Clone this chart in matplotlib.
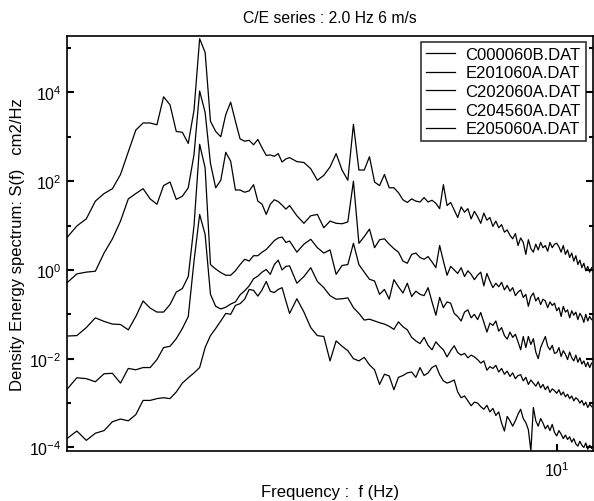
import numpy as np
import matplotlib
matplotlib.use("Agg")
import matplotlib.pyplot as plt
from matplotlib.ticker import FixedLocator, NullFormatter, NullLocator

plt.rcParams['font.family'] = ['Liberation Sans', 'DejaVu Sans']
plt.rcParams['mathtext.fontset'] = 'custom'
plt.rcParams['mathtext.rm'] = 'Liberation Sans'
plt.rcParams['mathtext.it'] = 'Liberation Sans:italic'

# frequency grid (Hz): fine below 3 Hz, coarser above
freq = np.concatenate([np.round(np.arange(1.10, 3.001, 0.05), 2),
                       np.round(np.arange(3.1, 11.701, 0.1), 2)])

labels = ["C000060B.DAT", "E201060A.DAT", "C202060A.DAT", "C204560A.DAT", "E205060A.DAT"]

# spectra, stored as log10 S(f)  [cm2/Hz]
log_c000060b = [
    0.73, 0.99, 1.15, 1.55, 1.72, 1.83, 2.15, 2.66, 3.15, 3.31, 3.31, 3.27, 3.90,
    3.72, 3.12, 3.10, 2.85, 3.60, 5.21, 4.90, 3.35, 3.12, 3.00, 3.50, 3.78, 3.35,
    2.95, 2.90, 2.92, 2.82, 2.94, 2.75, 2.58, 2.59, 2.56, 2.62, 2.43, 2.50, 2.53,
    2.44, 2.42, 2.28, 2.02, 2.13, 2.32, 2.62, 2.25, 2.02, 3.28,
    2.25, 2.25, 2.55, 1.98, 1.90, 2.15, 1.85, 1.85, 1.74, 1.58,
    1.52, 1.60, 1.55, 1.53, 1.63, 1.53, 1.57, 1.50, 1.38, 1.92,
    1.45, 1.52, 1.35, 1.18, 1.42, 1.30, 1.38, 1.15, 1.32, 1.20,
    1.05, 1.28, 1.12, 1.18, 0.98, 1.10, 0.95, 1.02, 0.85, 0.90,
    0.78, 0.70, 0.82, 0.55, 0.72, 0.62, 0.35, 0.68, 0.48, 0.40,
    0.58, 0.45, 0.62, 0.50, 0.55, 0.42, 0.62, 0.50, 0.58, 0.60,
    0.52, 0.40, 0.55, 0.35, 0.45, 0.28, 0.38, 0.20, 0.32, 0.12,
    0.22, 0.05, 0.15, -0.02, 0.08, -0.05, 0.05]

log_e201060a = [
    -0.29, -0.09, -0.05, -0.03, 0.38, 0.70, 1.10, 1.60, 1.72, 1.83, 1.60, 1.48, 1.90,
    1.98, 1.59, 1.66, 1.85, 2.60, 4.03, 3.55, 2.40, 1.85, 2.02, 2.65, 2.45, 1.80,
    1.80, 1.75, 1.78, 1.92, 1.55, 1.48, 1.25, 1.48, 1.58, 1.54, 1.46, 1.37, 1.45,
    1.22, 1.05, 1.22, 1.25, 0.95, 1.10, 1.05, 1.04, 1.08, 2.00,
    0.60, 0.75, 0.92, 0.50, 0.68, 0.70, 0.58, 0.48, 0.40, 0.20,
    0.15, 0.35, 0.38, 0.28, 0.24, 0.30, 0.18, 0.05, 0.55, 0.20,
    -0.12, 0.08, 0.00, -0.08, 0.05, -0.15, -0.02, -0.10, -0.22, -0.12,
    -0.05, -0.36, -0.08, -0.25, -0.40, -0.30, -0.38, -0.28, -0.45, -0.35,
    -0.48, -0.40, -0.58, -0.50, -0.45, -0.62, -0.55, -0.82, -0.60, -0.52,
    -0.70, -0.62, -0.78, -0.66, -0.70, -0.85, -0.72, -0.80, -0.75, -0.92,
    -0.85, -1.05, -0.82, -0.95, -0.90, -1.08, -0.92, -1.02, -0.95, -1.12,
    -0.98, -1.05, -1.18, -1.00, -1.15, -1.05, -1.12]

log_c202060a = [
    -1.49, -1.48, -1.30, -1.08, -1.16, -1.22, -1.23, -1.35, -1.05, -0.70, -0.86, -0.95, -0.95,
    -0.78, -0.50, -0.42, -0.15, 1.00, 2.83, 2.30, 0.12, 0.02, -0.06, -0.12, -0.12, -0.02,
    0.12, 0.24, 0.20, 0.32, 0.32, 0.40, 0.46, 0.56, 0.66, 0.72, 0.74, 0.62, 0.65,
    0.40, 0.58, 0.69, 0.50, 0.38, 0.45, -0.10, 0.10, 0.12, 0.60,
    0.12, -0.05, -0.21, -0.25, -0.55, -0.44, -0.66, -0.22, -0.38, -0.52,
    -0.30, -0.60, -0.48, -0.55, -0.58, -0.40, -0.72, -1.02, -0.62, -0.85,
    -0.72, -0.75, -0.98, -1.05, -1.15, -0.95, -0.90, -1.08, -1.00, -1.12,
    -0.96, -1.18, -1.40, -1.20, -1.25, -1.15, -1.38, -1.30, -1.48, -1.56,
    -1.40, -1.52, -1.45, -1.62, -1.80, -1.50, -1.75, -1.50, -1.68, -1.55,
    -1.85, -2.00, -1.75, -1.62, -1.50, -1.72, -1.80, -1.70, -1.88, -1.86,
    -1.75, -1.95, -1.82, -1.90, -2.02, -1.85, -1.98, -2.05, -1.92, -2.08,
    -1.98, -2.12, -2.05, -2.18, -2.08, -2.20, -2.10]

log_c204560a = [
    -2.69, -2.43, -2.45, -2.52, -2.34, -2.33, -2.55, -2.22, -2.25, -2.20, -2.20, -2.02, -1.75,
    -1.72, -1.55, -1.32, -1.05, 0.20, 1.25, 0.80, -0.55, -0.82, -0.88, -0.84, -0.77, -0.72,
    -0.56, -0.47, -0.36, -0.20, -0.14, -0.05, 0.01, -0.10, 0.12, 0.22, 0.00, 0.08, 0.09,
    -0.30, -0.15, 0.05, -0.26, -0.40, -0.58, -0.66, -0.65, -0.63, -0.85,
    -0.98, -1.13, -1.11, -1.15, -1.19, -1.22, -1.27, -1.34, -1.17, -1.28,
    -1.35, -1.52, -1.60, -1.66, -1.52, -1.70, -1.80, -1.62, -1.72, -1.80,
    -1.96, -1.82, -1.71, -1.86, -1.92, -1.88, -1.98, -1.92, -1.96, -2.02,
    -2.10, -2.05, -2.26, -2.18, -2.22, -2.15, -2.30, -2.22, -2.35, -2.28,
    -2.40, -2.32, -2.45, -2.38, -2.36, -2.50, -2.42, -2.58, -2.48, -2.55,
    -2.62, -2.52, -2.66, -2.58, -2.70, -2.62, -2.76, -2.68, -2.72, -2.78,
    -2.70, -2.82, -2.75, -2.86, -2.80, -2.90, -2.84, -2.95, -2.88, -2.92,
    -3.00, -2.94, -3.05, -2.98, -3.10, -3.02, -3.08]

log_e205060a = [
    -3.80, -3.63, -3.84, -3.68, -3.62, -3.42, -3.36, -3.40, -3.26, -2.94, -2.94, -2.90, -2.88,
    -2.90, -2.75, -2.55, -2.43, -2.32, -2.20, -1.75, -1.48, -1.32, -1.15, -0.98, -1.00, -0.80,
    -0.76, -0.66, -0.44, -0.46, -0.59, -0.45, -0.26, -0.48, -0.51, -0.44, -0.40, -0.70, -0.98,
    -0.65, -0.95, -1.30, -1.48, -1.50, -2.05, -1.60, -1.72, -1.82, -2.00,
    -2.05, -1.97, -2.14, -2.25, -2.58, -2.35, -2.39, -2.70, -2.42, -2.38,
    -2.32, -2.30, -2.42, -2.20, -2.38, -2.32, -2.20, -2.15, -2.36, -2.50,
    -2.55, -2.52, -2.48, -2.75, -2.88, -2.84, -2.95, -3.06, -2.98, -3.00,
    -3.08, -3.14, -3.05, -3.20, -3.12, -3.28, -3.20, -3.45, -3.63, -3.30,
    -3.40, -3.52, -3.40, -3.25, -3.14, -3.35, -3.44, -3.60, -4.08, -3.10,
    -3.40, -3.52, -3.35, -3.45, -3.58, -3.50, -3.62, -3.48, -3.66, -3.74,
    -3.62, -3.70, -3.80, -3.72, -3.82, -3.76, -3.88, -3.80, -3.92, -3.97,
    -3.86, -3.95, -4.00, -3.90, -4.04, -3.95, -4.02]

series = [log_c000060b, log_e201060a, log_c202060a, log_c204560a, log_e205060a]

fig = plt.figure(figsize=(5.94, 5.02), dpi=100)
ax = fig.add_axes([67 / 594, 50 / 502, 525.5 / 594, 415 / 502])

for lab, vals in zip(labels, series):
    ax.plot(freq, 10.0 ** np.array(vals), color='black', lw=0.9, label=lab)

ax.set_xscale('log')
ax.set_yscale('log')
ax.set_xlim(1.10, 11.75)
ax.set_ylim(10 ** -4.08, 10 ** 5.27)

ax.xaxis.set_major_locator(FixedLocator([10]))
ax.xaxis.set_minor_locator(NullLocator())
ax.set_xticklabels([r'$\mathregular{10^{1}}$'])
ax.yaxis.set_major_locator(FixedLocator([1e-4, 1e-2, 1e0, 1e2, 1e4]))
ax.yaxis.set_minor_locator(FixedLocator([1e-3, 1e-1, 1e1, 1e3, 1e5]))
ax.yaxis.set_minor_formatter(NullFormatter())
ax.set_yticklabels([r'$\mathregular{10^{-4}}$', r'$\mathregular{10^{-2}}$',
                    r'$\mathregular{10^{0}}$', r'$\mathregular{10^{2}}$',
                    r'$\mathregular{10^{4}}$'])
ax.tick_params(axis='both', which='major', direction='in', length=5, width=1.5,
               labelsize=11.5, right=True, pad=4)
ax.tick_params(axis='y', which='minor', direction='in', length=3, width=1.5, right=True)
ax.tick_params(axis='x', which='major', pad=7)

for sp in ax.spines.values():
    sp.set_linewidth(1.2)

ax.set_title("C/E series : 2.0 Hz 6 m/s", fontsize=11.3, pad=10)
ax.set_xlabel("Frequency :  f (Hz)", fontsize=12, labelpad=3)
ax.set_ylabel("Density Energy spectrum: S(f)   cm2/Hz", fontsize=12, labelpad=3)

leg = ax.legend(loc='upper right', bbox_to_anchor=(0.987, 0.986), fontsize=12,
                frameon=True, fancybox=False, handlelength=1.75, handletextpad=0.6,
                labelspacing=0.22, borderpad=0.3, borderaxespad=0.0)
leg.get_frame().set_edgecolor('black')
leg.get_frame().set_linewidth(1.2)

fig.savefig("out.png", dpi=100)
